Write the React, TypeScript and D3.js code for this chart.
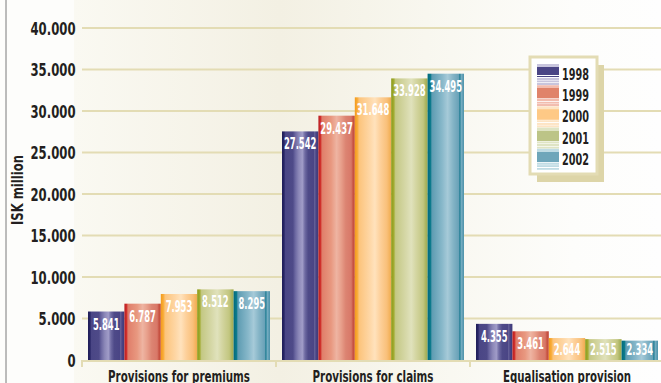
import React from "react";
import * as d3 from "d3";

const categories = ["Provisions for premiums", "Provisions for claims", "Equalisation provision"];
const years = ["1998", "1999", "2000", "2001", "2002"];
const values1998 = [5841, 27542, 4355];
const values1999 = [6787, 29437, 3461];
const values2000 = [7953, 31648, 2644];
const values2001 = [8512, 33928, 2515];
const values2002 = [8295, 34495, 2334];
const yTicks = [0, 5000, 10000, 15000, 20000, 25000, 30000, 35000, 40000];
const yLabel = "ISK million";

const seriesValues = [values1998, values1999, values2000, values2001, values2002];

const W = 661;
const H = 383;
const FONT = "'DejaVu Sans Condensed', 'Liberation Sans Narrow', 'DejaVu Sans', sans-serif";
const GRID = "#e3dcb4";

const barStops: [number, string][][] = [
  [[0, "#1c1a55"], [0.06, "#2a2868"], [0.09, "#4a4685"], [0.3, "#4e4a88"], [0.36, "#6a66a0"], [0.46, "#8c88b8"], [0.56, "#a09cc8"], [0.63, "#6e6aa2"], [0.72, "#4e4a88"], [0.87, "#4a4585"], [0.9, "#6a669c"], [0.93, "#4a4585"], [1, "#3e3a78"]],
  [[0, "#b81c22"], [0.06, "#d0302c"], [0.1, "#e07e6a"], [0.35, "#e89880"], [0.5, "#eeb4a2"], [0.62, "#e8a08c"], [0.75, "#dc8472"], [0.9, "#d87868"], [0.95, "#c85444"], [1, "#c04a3c"]],
  [[0, "#f49a1a"], [0.07, "#f8ac38"], [0.12, "#fcc47c"], [0.4, "#fed6a4"], [0.55, "#ffe2bc"], [0.7, "#fdd09a"], [0.88, "#f9c07a"], [0.95, "#f4b460"], [1, "#f0aa50"]],
  [[0, "#8c9a18"], [0.07, "#a0ab30"], [0.12, "#c4c884"], [0.4, "#d6d8a8"], [0.55, "#e0e2bc"], [0.7, "#d2d49e"], [0.88, "#c2c680"], [0.95, "#aab460"], [1, "#a0aa50"]],
  [[0, "#006a7c"], [0.08, "#0c7a8c"], [0.12, "#5e9cb2"], [0.4, "#88b8ca"], [0.55, "#a6cad8"], [0.7, "#84b4c6"], [0.85, "#6aa2b8"], [0.89, "#1a7a90"], [0.92, "#7ab0c4"], [1, "#4a90a8"]],
];

const swatchColors: [string, string][] = [
  ["#4a4585", "#c8c5dd"],
  ["#e0836a", "#f2bcae"],
  ["#fec986", "#fde4c4"],
  ["#bcc487", "#dfe4c4"],
  ["#6ea6ba", "#c0dce4"],
];

const fmt = (v: number) => d3.format(",")(v).replace(/,/g, ".");

function textWidth(s: string, digit: number, dot: number) {
  let w = 0;
  for (const c of s) w += c === "." ? dot : digit;
  return w;
}

export default function App() {
  const x0 = d3.scaleBand<string>().domain(categories).range([82, 664]).paddingInner(0.062).paddingOuter(0.031);
  const x1 = d3.scaleBand<string>().domain(years).range([0, x0.bandwidth()]);
  const y = d3.scaleLinear().domain([0, 40000]).range([360, 28]);

  const legendX = 530;
  const legendY = 57;
  const itemH = 21;

  return (
    <svg width={W} height={H} style={{ position: "absolute", left: 0, top: 0 }}>
      <defs>
        <linearGradient id="bg" x1="0" x2="1" y1="0" y2="0">
          <stop offset="0" stopColor="#faf9f2" />
          <stop offset="0.35" stopColor="#f3f0e3" />
          <stop offset="0.6" stopColor="#f8f7ef" />
          <stop offset="0.85" stopColor="#fdfdfb" />
          <stop offset="1" stopColor="#fefefe" />
        </linearGradient>
        {barStops.map((stops, i) => (
          <linearGradient key={i} id={`bar${i}`} x1="0" x2="1" y1="0" y2="0">
            {stops.map(([o, c], j) => (
              <stop key={j} offset={o} stopColor={c} />
            ))}
          </linearGradient>
        ))}
        {swatchColors.map(([solid, pale], i) => (
          <linearGradient key={i} id={`sw${i}`} x1="0" x2="0" y1="0" y2="1">
            <stop offset="0" stopColor={pale} />
            <stop offset="0.14" stopColor={pale} />
            <stop offset="0.15" stopColor={solid} />
            {i === 0 ? (
              <>
                <stop offset="0.5" stopColor={solid} />
                <stop offset="0.51" stopColor="#ffffff" />
                <stop offset="0.55" stopColor="#ffffff" />
                <stop offset="0.56" stopColor={solid} />
              </>
            ) : null}
            <stop offset="0.62" stopColor={solid} />
            <stop offset="0.64" stopColor="#ffffff" />
            <stop offset="0.68" stopColor={pale} />
            <stop offset="0.74" stopColor={pale} />
            <stop offset="0.77" stopColor="#ffffff" />
            <stop offset="0.8" stopColor={pale} />
            <stop offset="0.86" stopColor={pale} />
            <stop offset="0.89" stopColor="#ffffff" />
            <stop offset="0.92" stopColor={pale} />
            <stop offset="1" stopColor={pale} />
          </linearGradient>
        ))}
      </defs>

      <rect x={0} y={0} width={W} height={H} fill="#fdfdfb" />
      <rect x={74} y={0} width={W - 74} height={H} fill="url(#bg)" />
      <line x1={6} x2={6} y1={0} y2={H} stroke="#7a7a7a" strokeWidth={1} />

      {/* gridlines */}
      {yTicks.filter((t) => t > 0).map((t) => (
        <line key={t} x1={82} x2={W} y1={y(t)} y2={y(t)} stroke={GRID} strokeWidth={2} />
      ))}

      {/* y tick labels */}
      {yTicks.map((t) => {
        const s = fmt(t);
        return (
          <text
            key={t}
            x={75.5}
            y={y(t) + 6.5}
            textAnchor="end"
            fontFamily={FONT}
            fontWeight="bold"
            fontSize={18}
            fill="#231f20"
            textLength={textWidth(s, 8.1, 4.5)}
            lengthAdjust="spacingAndGlyphs"
          >
            {s}
          </text>
        );
      })}

      {/* y axis label */}
      <text
        transform={`translate(23,190) rotate(-90)`}
        textAnchor="middle"
        fontFamily={FONT}
        fontWeight="bold"
        fontSize={15}
        fill="#231f20"
        textLength={70}
        lengthAdjust="spacingAndGlyphs"
      >
        {yLabel}
      </text>

      {/* bars */}
      {categories.map((cat, ci) => (
        <g key={cat} transform={`translate(${x0(cat)},0)`}>
          {years.map((yr, si) => {
            const v = seriesValues[si][ci];
            const top = y(v);
            const bx = x1(yr) as number;
            const bw = x1.bandwidth();
            const s = fmt(v);
            return (
              <g key={yr}>
                <rect x={bx} y={top} width={bw} height={y(0) - top} fill={`url(#bar${si})`} />
                <text
                  x={bx + bw / 2}
                  y={Math.min(top + 18, 355)}
                  textAnchor="middle"
                  fontFamily={FONT}
                  fontWeight="bold"
                  fontSize={15}
                  fill="#ffffff"
                  textLength={textWidth(s, 5.9, 3)}
                  lengthAdjust="spacingAndGlyphs"
                >
                  {s}
                </text>
              </g>
            );
          })}
        </g>
      ))}

      {/* x axis */}
      <line x1={82} x2={W} y1={361} y2={361} stroke={GRID} strokeWidth={2} />
      {[82, ...categories.map((c) => (x0(c) as number) + x0.bandwidth() + x0.step() * x0.paddingInner() / 2)].map((tx, i) => (
        <line key={i} x1={tx} x2={tx} y1={360} y2={367} stroke={GRID} strokeWidth={2} />
      ))}
      {categories.map((c, i) => (
        <text
          key={c}
          x={(x0(c) as number) + x0.bandwidth() / 2}
          y={382}
          textAnchor="middle"
          fontFamily={FONT}
          fontWeight="bold"
          fontSize={16}
          fill="#231f20"
          textLength={[142, 121, 128][i]}
          lengthAdjust="spacingAndGlyphs"
        >
          {c}
        </text>
      ))}

      {/* legend */}
      <rect x={legendX + 7} y={legendY + 8} width={67} height={117} fill="#ddd5a8" />
      <rect x={legendX} y={legendY} width={67} height={117} fill="#ffffff" stroke="#e3dcb4" strokeWidth={3} />
      {years.map((yr, i) => {
        const cy = 74 + i * 21.2;
        return (
          <g key={yr}>
            <rect x={537} y={cy - 10} width={22} height={itemH} fill={`url(#sw${i})`} />
            <text
              x={562}
              y={cy + 6}
              fontFamily={FONT}
              fontWeight="bold"
              fontSize={16.5}
              fill="#231f20"
              textLength={27}
              lengthAdjust="spacingAndGlyphs"
            >
              {yr}
            </text>
          </g>
        );
      })}
    </svg>
  );
}
